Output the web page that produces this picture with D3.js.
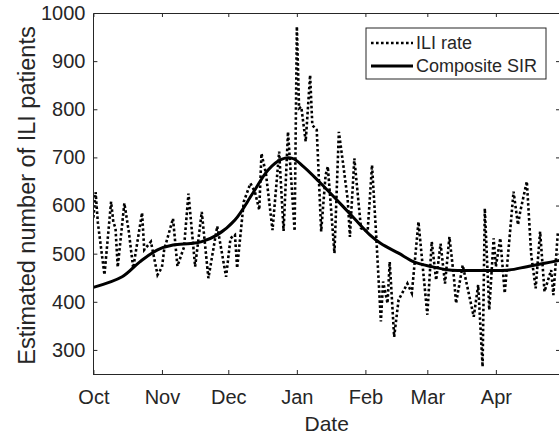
<!DOCTYPE html>
<html>
<head>
<meta charset="utf-8">
<script src="https://cdn.jsdelivr.net/npm/d3@7"></script>
<style>
  body { margin: 0; background: #fff; }
  text { font-family: "Liberation Sans", Arial, sans-serif; fill: #262626; }
</style>
</head>
<body>
<svg id="chart" width="559" height="435"></svg>
<script>
/*
    data (day = days since Oct 1)
*/
var iliDay = [0, 1, 2, 5, 8, 9, 10, 11, 14, 16, 18, 22, 23, 26, 29, 31, 32, 36, 38, 41,
    43, 46, 49, 52, 56, 60, 62, 64, 65, 68, 71, 73, 75, 76, 78, 81, 84, 86, 88, 91,
    92, 93, 94, 96, 98, 99, 101, 103, 105, 106, 109, 111, 113, 115, 116, 118, 121, 124, 126, 128,
    130, 131, 133, 134, 136, 138, 142, 144, 147, 151, 153, 155, 157, 159, 161, 163, 164, 167, 172, 174,
    176, 177, 179, 181, 182, 184, 186, 190, 192, 193, 196, 198, 200, 202, 204, 207, 208, 210];
var iliRate = [575, 628, 565, 456, 608, 566, 553, 472, 605, 546, 470, 585, 508, 525, 456, 472, 508, 573, 474, 514,
    625, 473, 587, 449, 557, 452, 532, 539, 470, 608, 646, 629, 591, 708, 667, 549, 712, 547, 753, 547,
    972, 802, 805, 733, 871, 767, 757, 546, 663, 681, 501, 753, 684, 612, 535, 698, 553, 546, 684, 528,
    359, 442, 397, 483, 327, 404, 438, 418, 566, 373, 525, 445, 521, 438, 535, 452, 397, 476, 369, 435,
    265, 594, 383, 532, 473, 532, 418, 629, 560, 587, 650, 497, 428, 546, 421, 466, 414, 542];

var sirDay = [0, 13, 21, 29, 36, 44, 49, 56, 64, 72, 79, 85, 90, 95, 102, 110, 118, 125,
    130, 138, 145, 153, 161, 168, 173, 181, 188, 196, 204, 211];
var sirValue = [430, 452, 483, 508, 518, 521, 525, 539, 570, 625, 674, 696, 698, 681, 650, 612, 573, 539,
    521, 501, 483, 473, 466, 465, 465, 465, 466, 473, 480, 486];

var monthLabels = ["Oct", "Nov", "Dec", "Jan", "Feb", "Mar", "Apr"];
var yTicks = [300, 400, 500, 600, 700, 800, 900, 1000];
var legendNames = ["ILI rate", "Composite SIR"];

var start = new Date(2014, 9, 1), end = new Date(2015, 3, 30);
var pLeft = 93.4, pRight = 560, pTop = 13, pBottom = 374;
var axisCol = "#262626";

var svg = d3.select("#chart");

var x = d3.scaleTime().domain([start, end]).range([pLeft, pRight]);
var y = d3.scaleLinear().domain([250, 1000]).range([pBottom, pTop]);

function dayToDate(d){ return d3.timeDay.offset(start, d) }

var monthTicks = d3.timeMonth.range(start, d3.timeMonth.offset(end, 1));

/*
    clip
*/
svg.append("clipPath").attr("id", "plotClip")
    .append("rect")
    .attr("x", pLeft).attr("y", pTop)
    .attr("width", pRight - pLeft).attr("height", pBottom - pTop);

/*
    lines
*/
var iliData = iliDay.map(function(d, i){ return {date: dayToDate(d), v: iliRate[i]} });
var sirData = sirDay.map(function(d, i){ return {date: dayToDate(d), v: sirValue[i]} });

var plot = svg.append("g").attr("clip-path", "url(#plotClip)");

plot.append("path")
    .datum(iliData)
    .attr("fill", "none")
    .attr("stroke", "#000")
    .attr("stroke-width", 2.6)
    .attr("stroke-dasharray", "2.6,2.4")
    .attr("d", d3.line().x(function(d){ return x(d.date) }).y(function(d){ return y(d.v) }));

plot.append("path")
    .datum(sirData)
    .attr("fill", "none")
    .attr("stroke", "#000")
    .attr("stroke-width", 3)
    .attr("d", d3.line().curve(d3.curveCatmullRom.alpha(0.5))
        .x(function(d){ return x(d.date) }).y(function(d){ return y(d.v) }));

/*
    axes (matlab style box, ticks inward)
*/
var xAxisB = d3.axisBottom(x).tickValues(monthTicks).tickSizeInner(-4).tickSizeOuter(0)
    .tickPadding(16).tickFormat(function(d, i){ return monthLabels[i] });
var xAxisT = d3.axisTop(x).tickValues(monthTicks).tickSizeInner(-4).tickSizeOuter(0).tickFormat("");
var yAxisL = d3.axisLeft(y).tickValues(yTicks).tickSizeInner(-4).tickSizeOuter(0)
    .tickPadding(8).tickFormat(d3.format("d"));
var yAxisR = d3.axisRight(y).tickValues(yTicks).tickSizeInner(-4).tickSizeOuter(0).tickFormat("");

function styleAxis(g){
    g.selectAll("path, line").attr("stroke", axisCol).attr("stroke-width", 1);
    g.selectAll("text").style("font-size", "20px").attr("fill", axisCol);
}

svg.append("g").attr("transform", "translate(0," + pBottom + ")").call(xAxisB).call(styleAxis);
svg.append("g").attr("transform", "translate(0," + pTop + ")").call(xAxisT).call(styleAxis);
svg.append("g").attr("transform", "translate(" + pLeft + ",0)").call(yAxisL).call(styleAxis);
svg.append("g").attr("transform", "translate(" + pRight + ",0)").call(yAxisR).call(styleAxis);
svg.selectAll(".domain").attr("shape-rendering", "crispEdges");

/*
    axis labels
*/
svg.append("text")
    .text("Date")
    .attr("x", (pLeft + pRight) / 2)
    .attr("y", 431)
    .attr("text-anchor", "middle")
    .style("font-size", "21px");

svg.append("text")
    .text("Estimated number of ILI patients")
    .attr("transform", "translate(35," + ((pTop + pBottom) / 2 + 2) + ") rotate(-90)")
    .attr("text-anchor", "middle")
    .style("font-size", "23.5px");

/*
    legend
*/
var lg = svg.append("g").attr("transform", "translate(366,28)");
lg.append("rect")
    .attr("width", 180).attr("height", 51)
    .attr("fill", "#fff")
    .attr("stroke", axisCol)
    .attr("stroke-width", 1);

legendNames.forEach(function(name, i){
    var ly = 15 + i * 23;
    lg.append("line")
        .attr("x1", 5).attr("x2", 47)
        .attr("y1", ly).attr("y2", ly)
        .attr("stroke", "#000")
        .attr("stroke-width", i == 0 ? 2.6 : 3)
        .attr("stroke-dasharray", i == 0 ? "2.6,2.4" : null);
    lg.append("text")
        .text(name)
        .attr("x", 50).attr("y", ly)
        .attr("dy", "0.35em")
        .style("font-size", "18px");
});
</script>
</body>
</html>
